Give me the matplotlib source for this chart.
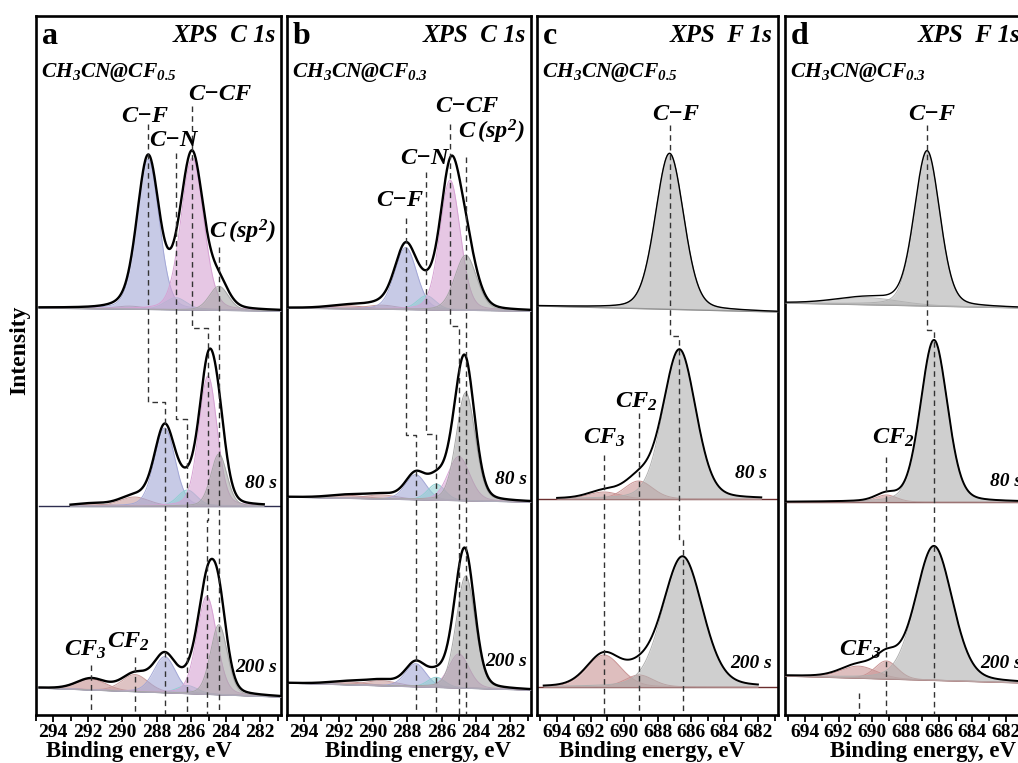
import numpy as np
import matplotlib.pyplot as plt

plt.rcParams['font.family'] = ['Liberation Serif', 'DejaVu Serif']
plt.rcParams['mathtext.fontset'] = 'custom'
plt.rcParams['mathtext.rm'] = 'Liberation Serif:bold:italic'
plt.rcParams['mathtext.it'] = 'Liberation Serif:bold:italic'
plt.rcParams['mathtext.bf'] = 'Liberation Serif:bold:italic'

W, H = 1018, 763

# ---------------- data ----------------
# rows: pristine, 80 s, 200 s ; peak centre (eV), height (a.u.), FWHM (eV)
c1s_names = ['CF3', 'CF2', 'C-F', 'C-N', 'C-CF', 'C(sp2)']
c1s_colors = ['#c48f8f', '#c99c9c', '#a3a7d6', '#8fcfd2', '#d6a2d3', '#a6a6a6']
f1s_names = ['bg', 'CF3', 'CF2', 'C-F']
f1s_colors = ['#b8b8b8', '#c99494', '#c99494', '#b0b0b0']

# a: C 1s, CH3CN@CF0.5
a_pos = [[291.8, 289.6, 288.50, 286.90, 285.94, 284.4],
         [291.8, 289.3, 287.54, 286.23, 285.03, 284.4],
         [291.8, 289.26, 287.54, 286.23, 285.10, 284.4]]
a_amp = [[0, 3, 150, 12, 152, 24],
         [2, 9, 78, 16, 130, 52],
         [11, 17, 36, 8, 98, 70]]
a_fwhm = [[2.0, 2.0, 1.5, 1.5, 1.55, 1.3],
          [2.0, 2.0, 1.4, 1.3, 1.25, 1.1],
          [2.0, 1.8, 1.5, 1.4, 1.35, 1.15]]
a_bg = [(3, 0), (0, 0), (9, 0)]
a_scan = [(294.8, 280.8), (293.0, 281.8), (294.8, 280.8)]

# b: C 1s, CH3CN@CF0.3
b_pos = [[291.5, 289.5, 288.09, 286.89, 285.51, 284.6],
         [291.5, 289.5, 287.51, 286.31, 285.00, 284.6],
         [291.5, 289.5, 287.51, 286.31, 285.00, 284.6]]
b_amp = [[3, 4, 62, 14, 130, 55],
         [3, 4, 25, 16, 44, 108],
         [3, 5, 23, 10, 34, 112]]
b_fwhm = [[2.5, 2.2, 1.5, 1.3, 1.4, 1.5],
          [2.5, 2.2, 1.4, 1.2, 1.5, 1.3],
          [2.5, 2.2, 1.4, 1.2, 1.4, 1.3]]
b_bg = [(3, 0), (5, 0), (7, 0)]
b_scan = [(295.0, 280.8), (295.0, 280.8), (295.0, 280.8)]

# c: F 1s, CH3CN@CF0.5
c_pos = [[690.0, 691.2, 689.1, 687.28],
         [690.0, 691.2, 689.13, 686.69],
         [690.0, 691.2, 689.1, 686.5]]
c_amp = [[0, 0, 0, 156],
         [0, 7, 18, 149],
         [0, 32, 12, 130]]
c_fwhm = [[4.0, 2.0, 2.0, 2.0],
          [4.0, 2.2, 2.0, 2.3],
          [4.0, 2.4, 2.0, 2.8]]
c_bg = [(6, 0), (0, 0), (0, 0)]
c_scan = [(695.2, 680.8), (694.0, 681.8), (694.8, 682.0)]

# d: F 1s, CH3CN@CF0.3
d_pos = [[690.3, 690.8, 689.15, 686.71],
         [690.3, 690.8, 689.15, 686.3],
         [690.3, 690.8, 689.15, 686.3]]
d_amp = [[7, 0, 0, 154],
         [0, 0, 7, 162],
         [0, 12, 18, 134]]
d_fwhm = [[4.5, 2.0, 2.0, 1.8],
          [4.0, 2.0, 1.5, 1.9],
          [4.0, 2.5, 1.6, 2.6]]
d_bg = [(5, 0), (0, 0), (7, 0)]
d_scan = [(695.2, 680.8), (695.2, 680.8), (695.2, 680.8)]

time_labels = ['80 s', '200 s']


def peak(x, c, h, w, eta=0.2):
    s = w / 2.3548
    g = np.exp(-(x - c) ** 2 / (2 * s * s))
    l = 1.0 / (1.0 + ((x - c) / (w / 2)) ** 2)
    return h * ((1 - eta) * g + eta * l)


panels = [
    dict(tag='a', core='XPS  C 1s', sample=r'$CH_3CN@CF_{0.5}$', pos=a_pos, amp=a_amp,
         fwhm=a_fwhm, bg=a_bg, scan=a_scan, colors=c1s_colors, left=36, width=245,
         xlim=(294.8, 280.8), ticks=np.arange(282, 295, 2), base=[311, 506, 697],
         bgcol=['#2e2e50', '#2e2e50', '#2e2e50'], envlw=[1.7, 1.7, 1.7],
         guides=[(2, 0, 124, [402, 600]), (3, 0, 153, [419, 600]), (4, 0, 106, [328, 520]),
                 (5, 0, 247, [400, 600]), (1, 2, 657, []), (0, 2, 665, [])],
         labels=[('C\u2212F', 145, 116), ('C\u2212N', 173, 140), ('C\u2212CF', 220, 95),
                 (r'$C\,(sp^2)$', 243, 232), (r'$CF_3$', 85, 650), (r'$CF_2$', 128, 642)],
         times=[(277, 483), (277, 667)], xlab=139),
    dict(tag='b', core='XPS  C 1s', sample=r'$CH_3CN@CF_{0.3}$', pos=b_pos, amp=b_amp,
         fwhm=b_fwhm, bg=b_bg, scan=b_scan, colors=c1s_colors, left=287, width=244,
         xlim=(295.0, 280.8), ticks=np.arange(282, 295, 2), base=[311, 502, 690],
         bgcol=['#2e2e50', '#2e2e50', '#2e2e50'], envlw=[1.7, 1.7, 1.7],
         guides=[(2, 0, 218, [435, 600]), (3, 0, 172, [434, 600]), (4, 0, 124, [326, 520]),
                 (5, 0, 157, [400, 600])],
         labels=[('C\u2212F', 400, 200), ('C\u2212N', 424, 158), ('C\u2212CF', 467, 107),
                 (r'$C\,(sp^2)$', 492, 132)],
         times=[(527, 480), (527, 662)], xlab=418),
    dict(tag='c', core='XPS  F 1s', sample=r'$CH_3CN@CF_{0.5}$', pos=c_pos, amp=c_amp,
         fwhm=c_fwhm, bg=c_bg, scan=c_scan, colors=f1s_colors, left=537, width=241,
         xlim=(695.2, 680.8), ticks=np.arange(682, 695, 2), base=[312, 499, 687],
         bgcol=['#707070', '#6b2e2e', '#6b2e2e'], envlw=[1.0, 1.4, 1.4],
         guides=[(3, 0, 125, [336, 540]), (2, 1, 413, [600]), (1, 1, 455, [600])],
         labels=[('C\u2212F', 676, 115), (r'$CF_2$', 636, 402), (r'$CF_3$', 604, 438)],
         times=[(767, 473), (772, 663)], xlab=652),
    dict(tag='d', core='XPS  F 1s', sample=r'$CH_3CN@CF_{0.3}$', pos=d_pos, amp=d_amp,
         fwhm=d_fwhm, bg=d_bg, scan=d_scan, colors=f1s_colors, left=785, width=241,
         xlim=(695.2, 680.8), ticks=np.arange(682, 695, 2), base=[308, 502, 683],
         bgcol=['#707070', '#6b2e2e', '#6b2e2e'], envlw=[1.0, 1.4, 1.4],
         guides=[(3, 0, 125, [330, 540]), (2, 1, 457, [600]), (1, 2, 693, [])],
         labels=[('C\u2212F', 932, 115), (r'$CF_2$', 893, 438), (r'$CF_3$', 860, 650)],
         times=[(1022, 482), (1022, 663)], xlab=923),
]

fig = plt.figure(figsize=(W / 100, H / 100), dpi=100)

for p in panels:
    ax = fig.add_axes([p['left'] / W, (H - 715) / H, p['width'] / W, 699 / H])
    ax.set_xlim(*p['xlim'])
    ax.set_ylim(0, 699)
    x_full = np.linspace(p['xlim'][0], p['xlim'][1], 800)

    for r in range(3):
        y0 = 715 - p['base'][r]
        bl, br = p['bg'][r]
        xs = np.linspace(p['scan'][r][0], p['scan'][r][1], 700)
        frac = (p['xlim'][0] - xs) / (p['xlim'][0] - p['xlim'][1])
        bg = y0 + bl + (br - bl) * frac
        frac_f = (p['xlim'][0] - x_full) / (p['xlim'][0] - p['xlim'][1])
        ax.plot(x_full, y0 + bl + (br - bl) * frac_f, color=p['bgcol'][r], lw=1.0, zorder=2)
        total = bg.copy()
        for k, col in enumerate(p['colors']):
            h = p['amp'][r][k]
            if h <= 0:
                continue
            comp = peak(xs, p['pos'][r][k], h, p['fwhm'][r][k])
            ax.fill_between(xs, bg, bg + comp, color=col, alpha=0.6, lw=0, zorder=3)
            ax.plot(xs, bg + comp, color=col, lw=0.7, zorder=3)
            total += comp
        ax.plot(xs, total, color='black', lw=p['envlw'][r], zorder=5)

    # dashed guide lines
    for k, r0, ytop, steps in p['guides']:
        xs_g, ys_g = [], []
        row = r0
        xs_g.append(p['pos'][row][k]); ys_g.append(715 - ytop)
        for ys in steps:
            if row + 1 > 2:
                break
            xs_g.append(p['pos'][row][k]); ys_g.append(715 - ys)
            row += 1
            xs_g.append(p['pos'][row][k]); ys_g.append(715 - ys)
        xs_g.append(p['pos'][row][k]); ys_g.append(0)
        ax.plot(xs_g, ys_g, color='#333333', lw=1.0, ls=(0, (4, 3)), zorder=6)

    ax.set_yticks([])
    ax.set_xticks(p['ticks'])
    ax.set_xticks(np.arange(p['ticks'][0] - 1, p['ticks'][-1] + 2, 2), minor=True)
    ax.tick_params(axis='x', which='major', direction='out', length=5, width=1.3,
                   labelsize=14, pad=1.5)
    ax.tick_params(axis='x', which='minor', direction='out', length=4, width=1.3)
    for t in ax.get_xticklabels():
        t.set_fontweight('bold')
    for s in ax.spines.values():
        s.set_linewidth(1.9)

    # texts
    fig.text((p['left'] + 6) / W, 1 - 36 / H, p['tag'], fontsize=23, fontweight='bold',
             ha='left', va='center')
    fig.text((p['left'] + p['width'] - 5) / W, 1 - 35 / H, p['core'], fontsize=18,
             fontweight='bold', fontstyle='italic', ha='right', va='center')
    fig.text((p['left'] + 5) / W, 1 - 72 / H, p['sample'], fontsize=15.5, ha='left', va='center')
    for txt, px, py in p['labels']:
        fig.text(px / W, 1 - py / H, txt, fontsize=17.5, fontweight='bold', fontstyle='italic',
                 ha='center', va='center')
    for txt, (px, py) in zip(time_labels, p['times']):
        fig.text(px / W, 1 - py / H, txt, fontsize=14, fontweight='bold', fontstyle='italic',
                 ha='right', va='center')
    fig.text(p['xlab'] / W, 1 - 752 / H, 'Binding energy, eV', fontsize=16.5, fontweight='bold',
             ha='center', va='center')

fig.text(20 / W, 1 - 350 / H, 'Intensity', fontsize=17, fontweight='bold', rotation=90,
         ha='center', va='center')

fig.savefig('out.png', dpi=100)
